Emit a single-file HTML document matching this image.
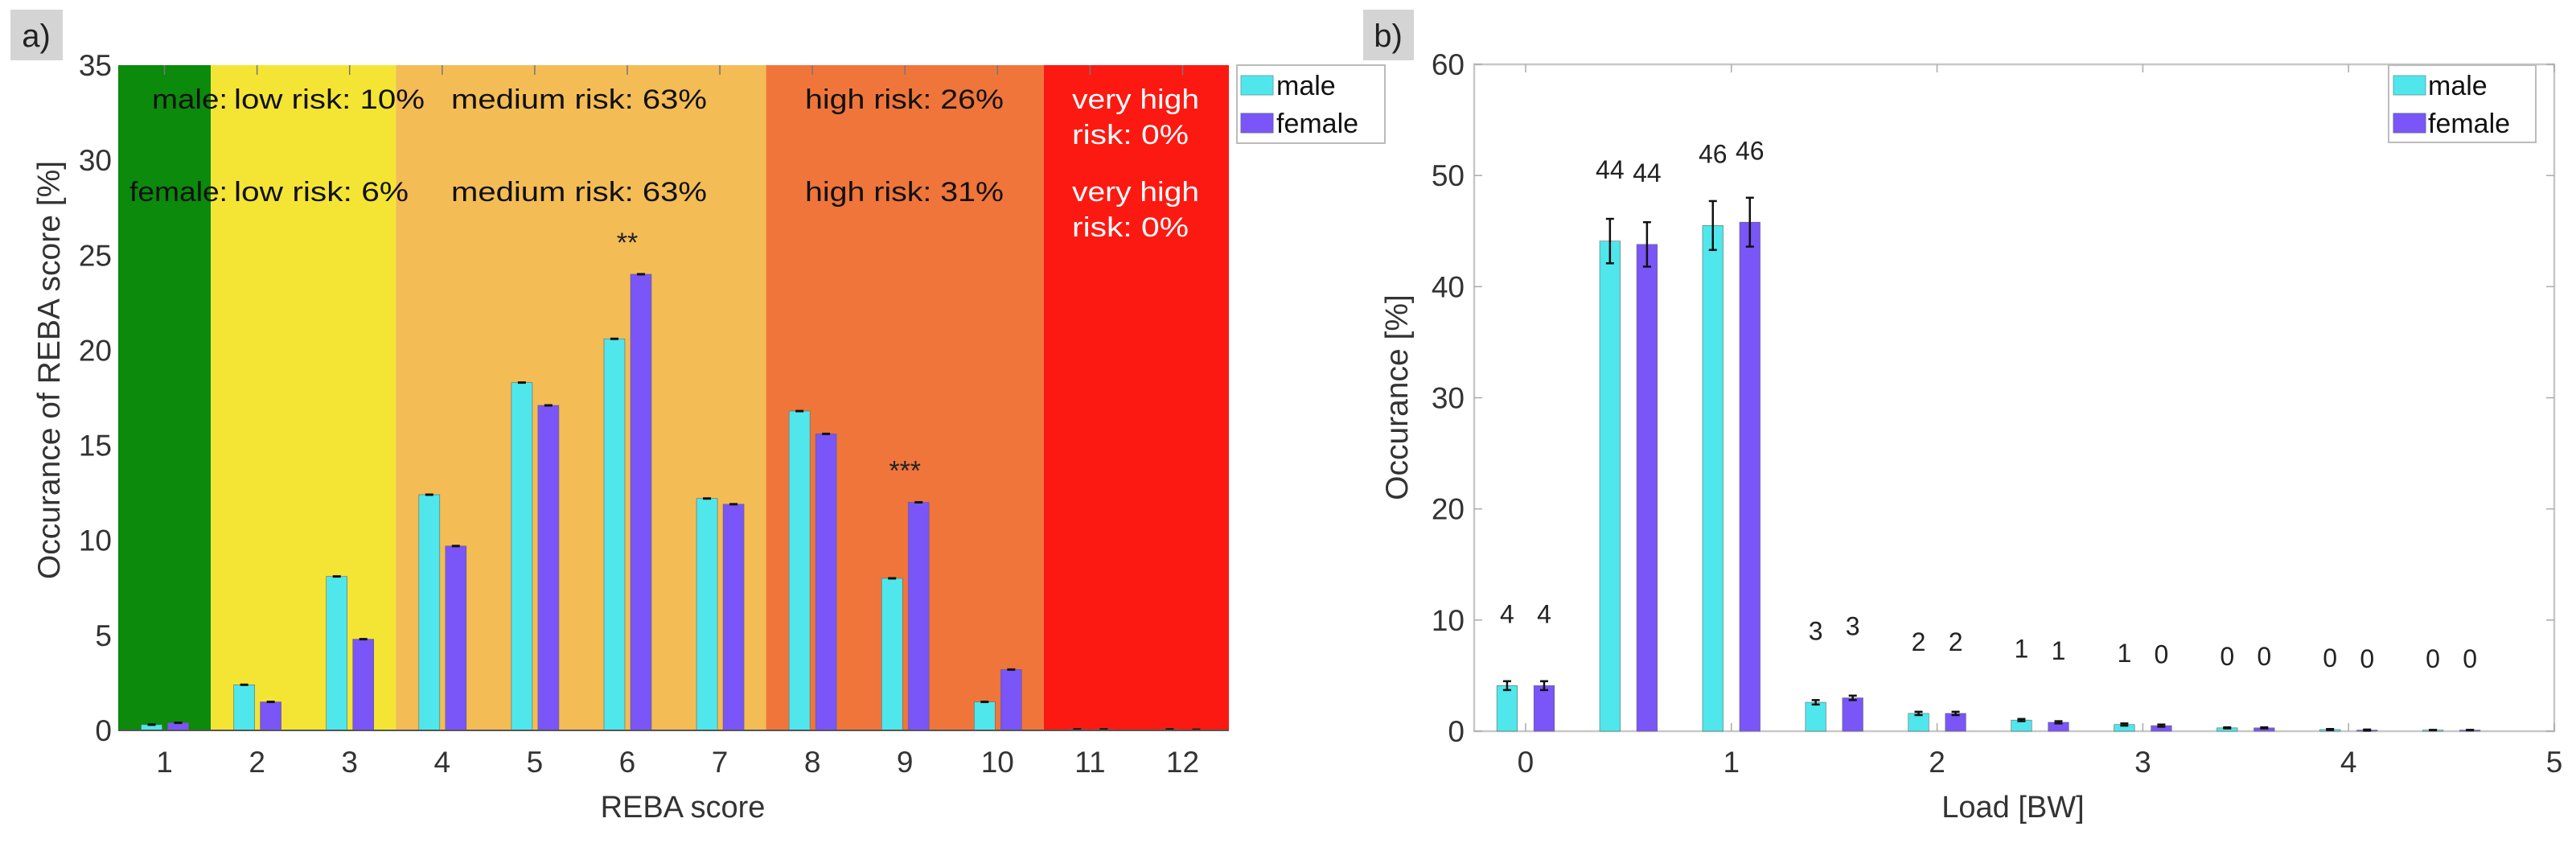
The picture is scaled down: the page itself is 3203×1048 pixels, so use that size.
<!DOCTYPE html>
<html><head><meta charset="utf-8">
<style>
body{margin:0;background:#fff;}
svg{display:block;font-family:"Liberation Sans","DejaVu Sans",sans-serif;}
</style></head>
<body>
<svg id="fig" width="3203" height="1048" viewBox="0 0 3203 1048" xmlns="http://www.w3.org/2000/svg">
<g id="pa"></g>
<g id="pb"></g>
</svg>
<script>
// ---------- Panel A data ----------
const rebaCategories = [1,2,3,4,5,6,7,8,9,10,11,12];
const rebaMale   = [0.3,2.4,8.1,12.4,18.3,20.6,12.2,16.8,8.0,1.5,0.05,0.05];
const rebaFemale = [0.4,1.5,4.8,9.7,17.1,24.0,11.9,15.6,12.0,3.2,0.05,0.03];
const rebaYTicks = [0,5,10,15,20,25,30,35];
const zoneStarts = [0.5,1.5,3.5,7.5,10.5];
const zoneEnds   = [1.5,3.5,7.5,10.5,12.5];
const zoneColors = ['#0b8a0c','#f4e535','#f3bc55','#f0753b','#fc1912'];
// ---------- Panel B data ----------
const loadCats = [0,0.5,1,1.5,2,2.5,3,3.5,4,4.5];
const loadMale   = [4.1,44.1,45.5,2.6,1.6,1.0,0.6,0.3,0.15,0.1];
const loadFemale = [4.1,43.8,45.8,3.0,1.6,0.8,0.5,0.3,0.1,0.1];
const loadMaleErr   = [0.4,2.0,2.2,0.2,0.15,0.1,0.1,0.05,0.05,0.02];
const loadFemaleErr = [0.4,2.0,2.2,0.2,0.15,0.1,0.1,0.05,0.05,0.02];
const loadMaleLbl   = ['4','44','46','3','2','1','1','0','0','0'];
const loadFemaleLbl = ['4','44','46','3','2','1','0','0','0','0'];
const loadYTicks = [0,10,20,30,40,50,60];
const loadXTicks = [0,1,2,3,4,5];

const NS='http://www.w3.org/2000/svg';
function mk(parent,tag,attrs,text){const e=document.createElementNS(NS,tag);for(const k in attrs)e.setAttribute(k,attrs[k]);if(text!==undefined)e.textContent=text;parent.appendChild(e);return e;}

const CYAN='#4fe7ec', PURP='#7a55f7';

// ===== Panel A =====
const pa=document.getElementById('pa');
const aL=147,aR=1528,aT=81,aB=908;
const ax=v=>aL+(v-0.5)*(aR-aL)/12;
const ay=v=>aB-v*(aB-aT)/35;
let lb=mk(pa,'rect',{x:13,y:12,width:65,height:63,fill:'#d4d4d4'});


let lt=mk(pa,'text',{x:45,y:58,'font-size':40,'text-anchor':'middle',fill:'#222'},'a)');


zoneStarts.forEach((s,i)=>{
  const r=mk(pa,'rect',{x:ax(s),y:aT,width:ax(zoneEnds[i])-ax(s),height:aB-aT,fill:zoneColors[i]});
  
  
});
// zone texts: [text, x-left, y-center, width, colour]
const zt=[
 ['male:',189,123,94,'#111'],['low risk: 10%',291,123,237,'#111'],['medium risk: 63%',561,123,318,'#111'],['high risk: 26%',1001,123,247,'#111'],['very high',1333,123,158,'#fff'],['risk: 0%',1333,167,145,'#fff'],
 ['female:',161,238,122,'#111'],['low risk: 6%',291,238,217,'#111'],['medium risk: 63%',561,238,318,'#111'],['high risk: 31%',1001,238,247,'#111'],['very high',1333,238,158,'#fff'],['risk: 0%',1333,282,145,'#fff']];
zt.forEach(t=>{
  const e=mk(pa,'text',{x:t[1],y:t[2]+12,'font-size':34,textLength:t[3],lengthAdjust:'spacingAndGlyphs',fill:t[4]},t[0]);
  
  
});
// top ticks
rebaCategories.forEach(c=>{mk(pa,'line',{x1:ax(c),x2:ax(c),y1:aT,y2:aT+12,stroke:'#777','stroke-width':1.5});});
// bars
rebaCategories.forEach((c,i)=>{
  [[rebaMale[i],-16,CYAN,'bar-male-'+c],[rebaFemale[i],17,PURP,'bar-female-'+c]].forEach(b=>{
    const cx=ax(c)+b[1];
    const r=mk(pa,'rect',{x:cx-13,y:ay(b[0]),width:26,height:aB-ay(b[0]),fill:b[2],stroke:'#666','stroke-width':0.6});
    
    
    mk(pa,'line',{x1:cx-5,x2:cx+5,y1:ay(b[0]),y2:ay(b[0]),stroke:'#111','stroke-width':3});
  });
});
let s1=mk(pa,'text',{x:ax(6),y:ay(24)-28,'font-size':34,'text-anchor':'middle',fill:'#222'},'**');


let s2=mk(pa,'text',{x:ax(9),y:ay(12)-28,'font-size':34,'text-anchor':'middle',fill:'#222'},'***');


mk(pa,'line',{x1:aL,x2:aR,y1:aB,y2:aB,stroke:'#555','stroke-width':2});
rebaYTicks.forEach(v=>{
  const t=mk(pa,'text',{x:aL-8,y:ay(v)+13,'font-size':37,'text-anchor':'end',fill:'#333'},v);
  
  
});
rebaCategories.forEach(c=>{
  const t=mk(pa,'text',{x:ax(c),y:960,'font-size':37,'text-anchor':'middle',fill:'#333'},c);
  
  
});
let xa=mk(pa,'text',{x:849,y:1016,'font-size':38,'text-anchor':'middle',fill:'#333'},'REBA score');


let ya=mk(pa,'text',{x:0,y:0,'font-size':39,'text-anchor':'middle',fill:'#333',transform:'translate(74,460) rotate(-90)'},'Occurance of REBA score [%]');


// legend A
const lgA=mk(pa,'g',{});


mk(lgA,'rect',{x:1538,y:81,width:184,height:97,fill:'#fff',stroke:'#bbb','stroke-width':2});
mk(lgA,'rect',{x:1543,y:94,width:40,height:24,fill:CYAN,stroke:'#6aa','stroke-width':1});
mk(lgA,'rect',{x:1543,y:141,width:40,height:24,fill:PURP,stroke:'#66a','stroke-width':1});
mk(lgA,'text',{x:1587,y:118,'font-size':34,fill:'#111'},'male');
mk(lgA,'text',{x:1587,y:165,'font-size':34,fill:'#111'},'female');

// ===== Panel B =====
const pb=document.getElementById('pb');
const bL=1833,bR=3176,bT=80,bB=909;
const bx=v=>bL+(v+0.25)*(bR-bL)/5.25;
const by=v=>bB-v*(bB-bT)/60;
let lb2=mk(pb,'rect',{x:1695,y:12,width:63,height:63,fill:'#d4d4d4'});


let lt2=mk(pb,'text',{x:1726,y:58,'font-size':40,'text-anchor':'middle',fill:'#222'},'b)');


mk(pb,'rect',{x:bL,y:bT,width:bR-bL,height:bB-bT,fill:'none',stroke:'#c8c8c8','stroke-width':2.5});
loadYTicks.forEach(v=>{
  mk(pb,'line',{x1:bL,x2:bL+10,y1:by(v),y2:by(v),stroke:'#aaa','stroke-width':1.5});
  mk(pb,'line',{x1:bR-10,x2:bR,y1:by(v),y2:by(v),stroke:'#aaa','stroke-width':1.5});
  const t=mk(pb,'text',{x:bL-12,y:by(v)+13,'font-size':37,'text-anchor':'end',fill:'#333'},v);
  
  
});
loadXTicks.forEach(v=>{
  mk(pb,'line',{x1:bx(v),x2:bx(v),y1:bT,y2:bT+10,stroke:'#aaa','stroke-width':1.5});
  mk(pb,'line',{x1:bx(v),x2:bx(v),y1:bB-10,y2:bB,stroke:'#aaa','stroke-width':1.5});
  const t=mk(pb,'text',{x:bx(v),y:960,'font-size':37,'text-anchor':'middle',fill:'#333'},v);
  
  
});
const bw=(bR-bL)/5.25*0.1;
loadCats.forEach((c,i)=>{
  [[loadMale[i],loadMaleErr[i],loadMaleLbl[i],-0.09,CYAN,'bar-male-'+c],[loadFemale[i],loadFemaleErr[i],loadFemaleLbl[i],0.09,PURP,'bar-female-'+c]].forEach(b=>{
    const cx=bx(c+b[3]);
    const r=mk(pb,'rect',{x:cx-bw/2,y:by(b[0]),width:bw,height:bB-by(b[0]),fill:b[4],stroke:'#666','stroke-width':0.6});
    
    
    mk(pb,'line',{x1:cx,x2:cx,y1:by(b[0]+b[1]),y2:by(b[0]-b[1]),stroke:'#111','stroke-width':2.5});
    mk(pb,'line',{x1:cx-5,x2:cx+5,y1:by(b[0]+b[1]),y2:by(b[0]+b[1]),stroke:'#111','stroke-width':2.5});
    mk(pb,'line',{x1:cx-5,x2:cx+5,y1:by(b[0]-b[1]),y2:by(b[0]-b[1]),stroke:'#111','stroke-width':2.5});
    const t=mk(pb,'text',{x:cx,y:by(b[0]+6.5)+12,'font-size':32,'text-anchor':'middle',fill:'#222'},b[2]);
    
    
  });
});
let xb=mk(pb,'text',{x:2503,y:1016,'font-size':38,'text-anchor':'middle',fill:'#333'},'Load [BW]');


let yb=mk(pb,'text',{x:0,y:0,'font-size':39,'text-anchor':'middle',fill:'#333',transform:'translate(1750,494) rotate(-90)'},'Occurance [%]');


const lgB=mk(pb,'g',{});


mk(lgB,'rect',{x:2970,y:81,width:183,height:96,fill:'#fff',stroke:'#bbb','stroke-width':2});
mk(lgB,'rect',{x:2976,y:94,width:40,height:24,fill:CYAN,stroke:'#6aa','stroke-width':1});
mk(lgB,'rect',{x:2976,y:141,width:40,height:24,fill:PURP,stroke:'#66a','stroke-width':1});
mk(lgB,'text',{x:3019,y:118,'font-size':34,fill:'#111'},'male');
mk(lgB,'text',{x:3019,y:165,'font-size':34,fill:'#111'},'female');
</script>
</body></html>
